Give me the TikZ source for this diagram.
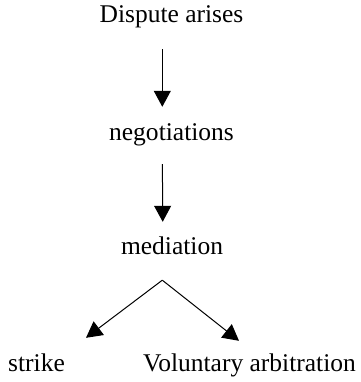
\documentclass[tikz,border=0pt]{standalone}
\usepackage{fontspec}
\setmainfont{Liberation Serif}
\usetikzlibrary{arrows.meta}
\begin{document}
\begin{tikzpicture}[x=1pt,y=1pt,
  lbl/.style={inner sep=0pt, anchor=base, text height=17.5pt, text depth=5.5pt,
    font=\fontsize{25.5}{30}\selectfont},
  arr/.style={line width=1pt, -{Triangle[width=17pt,length=16pt]}}]
\useasboundingbox (0,0) rectangle (360,382);
\node[lbl] (dispute) at (171.5,359) {Dispute arises};
\node[lbl] (neg) at (171.5,241) {negotiations};
\node[lbl] (med) at (172,127) {mediation};
\node[lbl] (strike) at (36.5,10) {strike};
\node[lbl] (vol) at (249.5,10) {Voluntary arbitration};
\draw[arr, shorten <=20.5pt, shorten >=16.5pt] ([xshift=-9.2pt]dispute.south) -- ([xshift=-9.2pt]neg.north);
\draw[arr, shorten <=17.5pt, shorten >=15.5pt] ([xshift=-9.2pt]neg.south) -- ([xshift=-9.2pt]med.north);
\coordinate (apex) at ([xshift=-9.7pt,yshift=-19.5pt]med.south);
\draw[arr] (apex) -- ([xshift=49.5pt,yshift=16.5pt]strike.north);
\draw[arr] (apex) -- ([xshift=-10.5pt,yshift=13.5pt]vol.north);
\end{tikzpicture}
\end{document}
